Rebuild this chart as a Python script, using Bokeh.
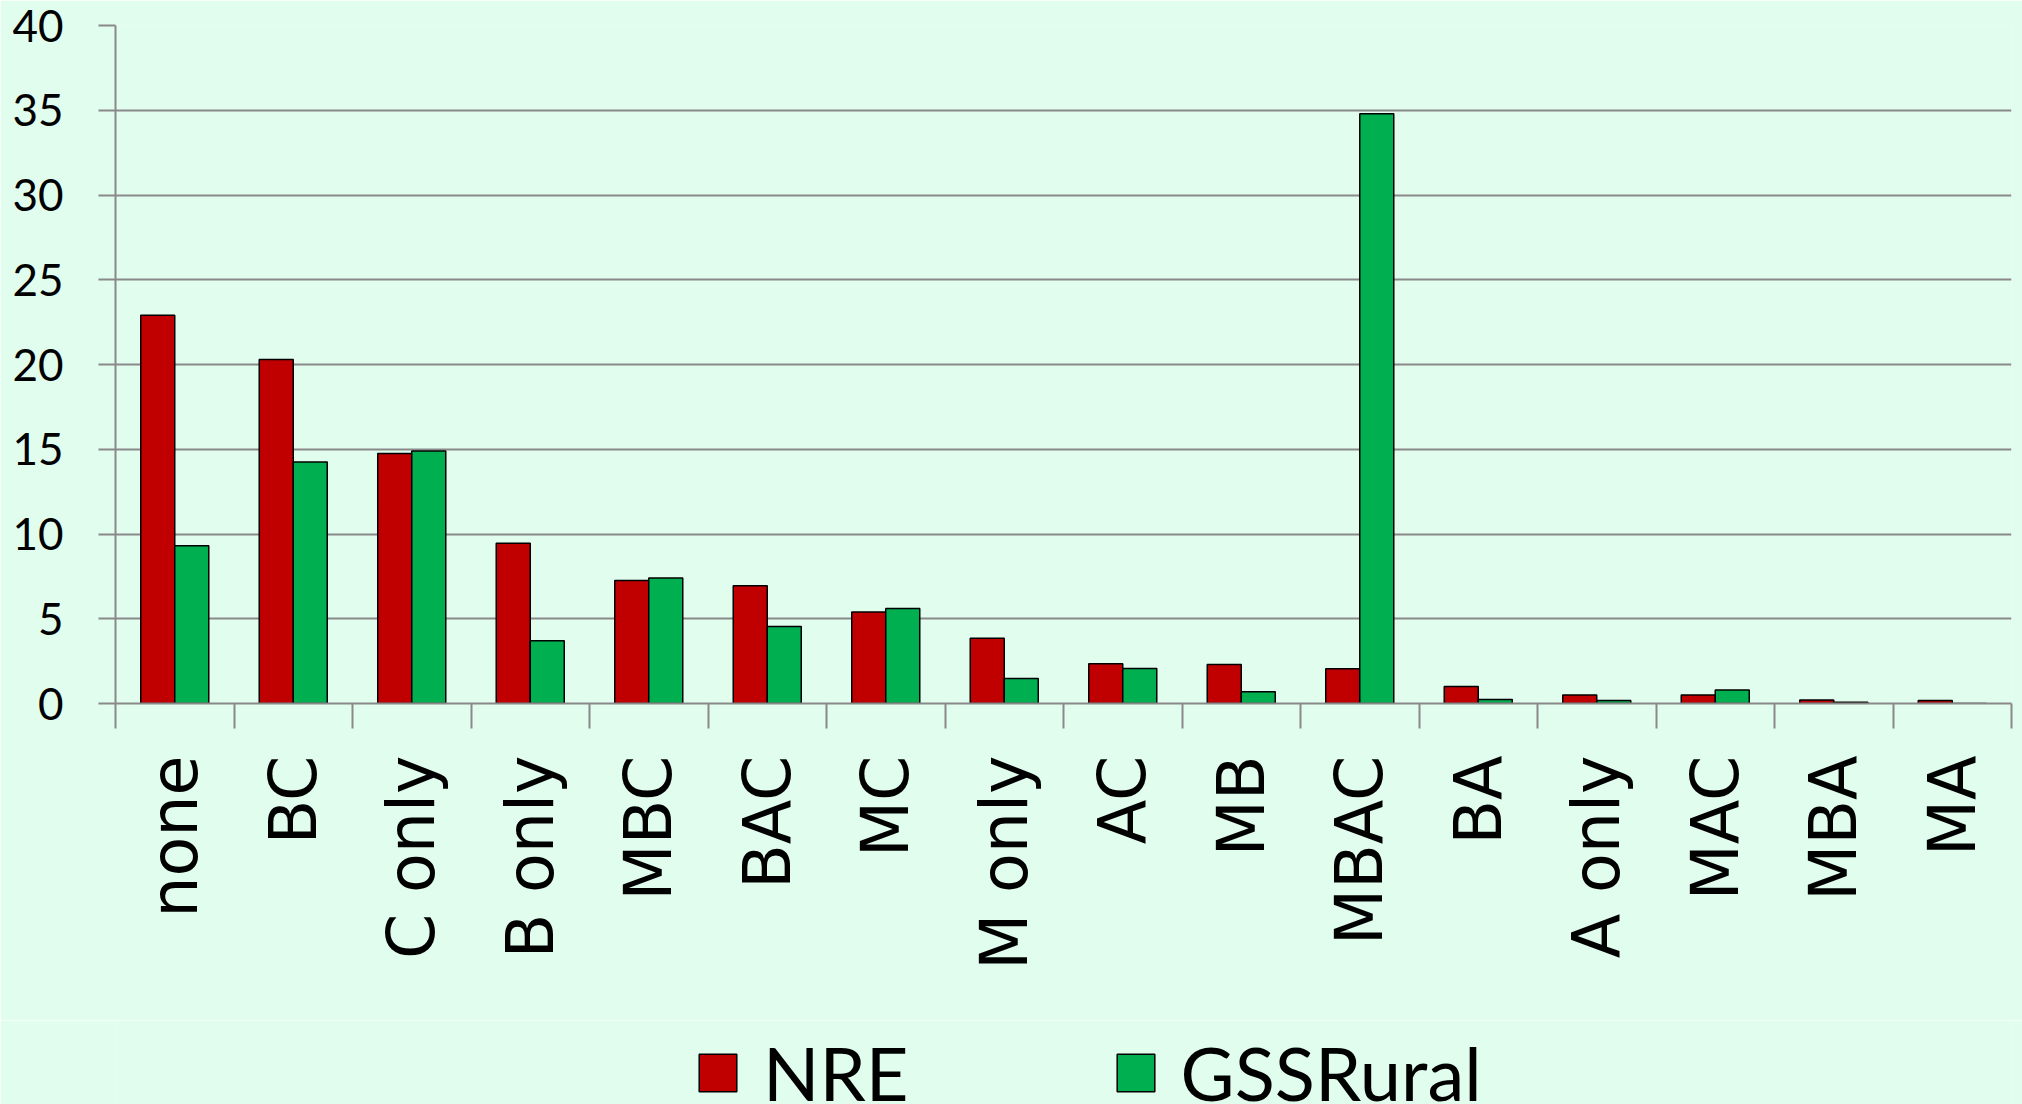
import math
import numpy as np
from bokeh.plotting import figure
from bokeh.layouts import column
from bokeh.models import Range1d, FixedTicker, Legend, LegendItem, ColumnDataSource
from bokeh.embed import file_html
from bokeh.resources import INLINE

categories = ["none", "BC", "C only", "B only", "MBC", "BAC", "MC", "M only",
              "AC", "MB", "MBAC", "BA", "A only", "MAC", "MBA", "MA"]
nre = [22.9, 20.3, 14.75, 9.45, 7.25, 6.95, 5.4, 3.85,
       2.35, 2.3, 2.05, 1.0, 0.5, 0.5, 0.2, 0.18]
gss_rural = [9.3, 14.25, 14.9, 3.7, 7.4, 4.55, 5.6, 1.47,
             2.07, 0.7, 34.8, 0.24, 0.18, 0.8, 0.08, 0.0]
series_names = ["NRE", "GSSRural"]
y_ticks = [0, 5, 10, 15, 20, 25, 30, 35, 40]

BG = "#E0FDEE"
GRID = "#898989"
RED = "#C00000"
GREEN = "#00B050"

n = len(categories)
idx = np.arange(n)
bw = 0.287

src = ColumnDataSource(dict(
    x_nre=idx + 0.5 - bw / 2,
    x_gss=idx + 0.5 + bw / 2,
    nre=nre,
    gss=gss_rural,
))

p = figure(width=2022, height=1020, output_backend="svg", toolbar_location=None,
           x_range=Range1d(0, n), y_range=Range1d(0, y_ticks[-1]),
           min_border_left=115, min_border_right=11, min_border_top=25,
           min_border_bottom=317,
           background_fill_color=BG, border_fill_color=BG,
           outline_line_color=None)

r1 = p.vbar(x="x_nre", top="nre", bottom=0, width=bw, source=src,
            fill_color=RED, line_color="black", line_width=1.5)
r2 = p.vbar(x="x_gss", top="gss", bottom=0, width=bw, source=src,
            fill_color=GREEN, line_color="black", line_width=1.5)

# x axis: labels at category centres, tick marks at category boundaries
xa = p.xaxis[0]
xa.ticker = FixedTicker(ticks=[float(i + 0.5) for i in idx],
                        minor_ticks=[float(i) for i in range(n + 1)])
xa.major_label_overrides = {float(i + 0.5): c for i, c in enumerate(categories)}
xa.major_tick_out = 25
xa.major_tick_in = 0
xa.major_tick_line_color = None
xa.minor_tick_out = 25
xa.minor_tick_in = 0
xa.minor_tick_line_color = GRID
xa.minor_tick_line_width = 2
xa.axis_line_color = GRID
xa.axis_line_width = 2
xa.major_label_orientation = math.pi / 2
xa.major_label_standoff = 27
xa.major_label_text_font = "DejaVu Sans"
xa.major_label_text_font_size = "65px"
xa.major_label_text_color = "black"

# y axis
ya = p.yaxis[0]
ya.ticker = FixedTicker(ticks=y_ticks)
ya.major_tick_out = 17
ya.major_tick_in = 0
ya.major_tick_line_color = GRID
ya.major_tick_line_width = 2
ya.minor_tick_line_color = None
ya.axis_line_color = GRID
ya.axis_line_width = 2
ya.major_label_standoff = 35
ya.major_label_text_font = "Lato"
ya.major_label_text_font_size = "44px"
ya.major_label_text_color = "black"

p.xgrid.visible = False
p.ygrid.grid_line_color = GRID
p.ygrid.grid_line_width = 2

# legend strip below the chart (its frame is aligned with the chart's frame)
pl = figure(width=2022, height=84, output_backend="svg", toolbar_location=None,
            x_range=Range1d(0, 1), y_range=Range1d(0, 1),
            x_axis_type=None, y_axis_type=None,
            min_border_left=0, min_border_right=0, min_border_top=0,
            min_border_bottom=0,
            background_fill_color=BG, border_fill_color=BG,
            outline_line_color=None)
pl.xgrid.visible = False
pl.ygrid.visible = False
l1 = pl.vbar(x="x_nre", top="nre", bottom=0, width=bw, source=src, visible=False,
             fill_color=RED, line_color="black", line_width=1.5)
l2 = pl.vbar(x="x_gss", top="gss", bottom=0, width=bw, source=src, visible=False,
             fill_color=GREEN, line_color="black", line_width=1.5)

legend = Legend(items=[LegendItem(label=series_names[0], renderers=[l1]),
                       LegendItem(label=series_names[1], renderers=[l2])],
                orientation="horizontal", location=(579, -13),
                glyph_width=47, glyph_height=47, label_standoff=22,
                spacing=203, padding=0, margin=0,
                border_line_color=None, background_fill_alpha=0,
                inactive_fill_alpha=0,
                label_text_font="Lato", label_text_font_size="74px",
                label_text_color="black")
pl.add_layout(legend)

layout = column(p, pl, spacing=0)

open("out.html", "w").write(file_html(layout, INLINE))
